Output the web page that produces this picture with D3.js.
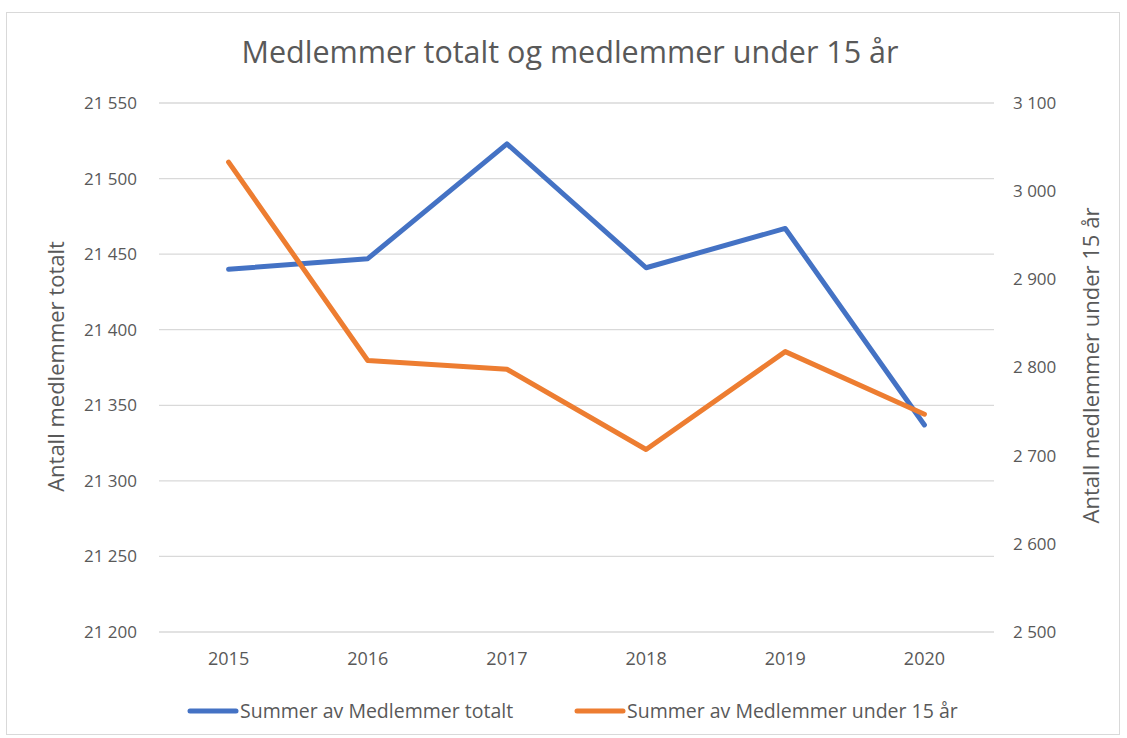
<!DOCTYPE html>
<html>
<head>
<meta charset="utf-8">
<script src="https://cdn.jsdelivr.net/npm/d3@7"></script>
<style>
  body { margin: 0; background: #fff; }
  text { font-family: "Open Sans", "Noto Sans", sans-serif; fill: #595959; }
</style>
</head>
<body>
<div id="chart"></div>
<script>
// chart data
const years = ["2015", "2016", "2017", "2018", "2019", "2020"];
const totalMembers = [21440, 21447, 21523, 21441, 21467, 21337];
const under15 = [3033, 2808, 2798, 2707, 2818, 2747];
const leftTicks = [21200, 21250, 21300, 21350, 21400, 21450, 21500, 21550];
const rightTicks = [2500, 2600, 2700, 2800, 2900, 3000, 3100];

const W = 1127, H = 738;
const margin = {top: 103, right: 133, bottom: 106, left: 159};
const width = W - margin.left - margin.right,
      height = H - margin.top - margin.bottom;

const fmt = d => d3.format(",")(d).replace(/,/g, " ");

const svg = d3.select("#chart").append("svg")
  .attr("width", W).attr("height", H);

// outer frame
svg.append("rect")
  .attr("x", 6.5).attr("y", 12.5)
  .attr("width", 1113).attr("height", 722)
  .attr("fill", "#fff").attr("stroke", "#d9d9d9");

svg.append("text")
  .attr("x", 570).attr("y", 63)
  .attr("text-anchor", "middle")
  .attr("font-size", 30.5)
  .text("Medlemmer totalt og medlemmer under 15 år");

const g = svg.append("g")
  .attr("transform", `translate(${margin.left},${margin.top})`);

const x = d3.scaleBand().domain(years).range([0, width]);
const yL = d3.scaleLinear().domain([21200, 21550]).range([height, 0]);
const yR = d3.scaleLinear().domain([2500, 3100]).range([height, 0]);

// gridlines
g.append("g").selectAll("line").data(leftTicks).join("line")
  .attr("x1", 0).attr("x2", width)
  .attr("y1", d => yL(d)).attr("y2", d => yL(d))
  .attr("stroke", "#d9d9d9").attr("stroke-width", 1.3);

// left axis
const axL = g.append("g")
  .call(d3.axisLeft(yL).tickValues(leftTicks).tickFormat(fmt).tickSize(0).tickPadding(22));
axL.select(".domain").remove();
axL.selectAll("text").attr("font-size", 17).attr("font-family", null).attr("fill", "#595959");

// right axis
const axR = g.append("g").attr("transform", `translate(${width},0)`)
  .call(d3.axisRight(yR).tickValues(rightTicks).tickFormat(fmt).tickSize(0).tickPadding(19));
axR.select(".domain").remove();
axR.selectAll("text").attr("font-size", 17).attr("font-family", null).attr("fill", "#595959");

// x axis
const axX = g.append("g").attr("transform", `translate(0,${height})`)
  .call(d3.axisBottom(x).tickSize(0).tickPadding(20));
axX.select(".domain").remove();
axX.selectAll("text").attr("font-size", 18).attr("font-family", null).attr("fill", "#595959");

// axis titles
svg.append("text")
  .attr("transform", `translate(64,${margin.top + height / 2 - 1}) rotate(-90)`)
  .attr("text-anchor", "middle").attr("font-size", 22)
  .text("Antall medlemmer totalt");
svg.append("text")
  .attr("transform", `translate(1099,${margin.top + height / 2 - 2}) rotate(-90)`)
  .attr("text-anchor", "middle").attr("font-size", 22)
  .text("Antall medlemmer under 15 år");

const cx = d => x(d) + x.bandwidth() / 2;

const lineL = d3.line().x((d, i) => cx(years[i])).y(d => yL(d));
const lineR = d3.line().x((d, i) => cx(years[i])).y(d => yR(d));

g.append("path").datum(totalMembers)
  .attr("d", lineL).attr("fill", "none")
  .attr("stroke", "#4472C4").attr("stroke-width", 5)
  .attr("stroke-linecap", "round").attr("stroke-linejoin", "round");

g.append("path").datum(under15)
  .attr("d", lineR).attr("fill", "none")
  .attr("stroke", "#ED7D31").attr("stroke-width", 5)
  .attr("stroke-linecap", "round").attr("stroke-linejoin", "round");

// legend
const legend = [
  {name: "Summer av Medlemmer totalt", color: "#4472C4", x: 190},
  {name: "Summer av Medlemmer under 15 år", color: "#ED7D31", x: 577}
];
const lg = svg.append("g").selectAll("g").data(legend).join("g")
  .attr("transform", d => `translate(${d.x},711)`);
lg.append("line")
  .attr("x1", 0).attr("x2", 46)
  .attr("stroke", d => d.color).attr("stroke-width", 5)
  .attr("stroke-linecap", "round");
lg.append("text")
  .attr("x", 50).attr("dy", "0.35em")
  .attr("font-size", 19.5)
  .text(d => d.name);
</script>
</body>
</html>
